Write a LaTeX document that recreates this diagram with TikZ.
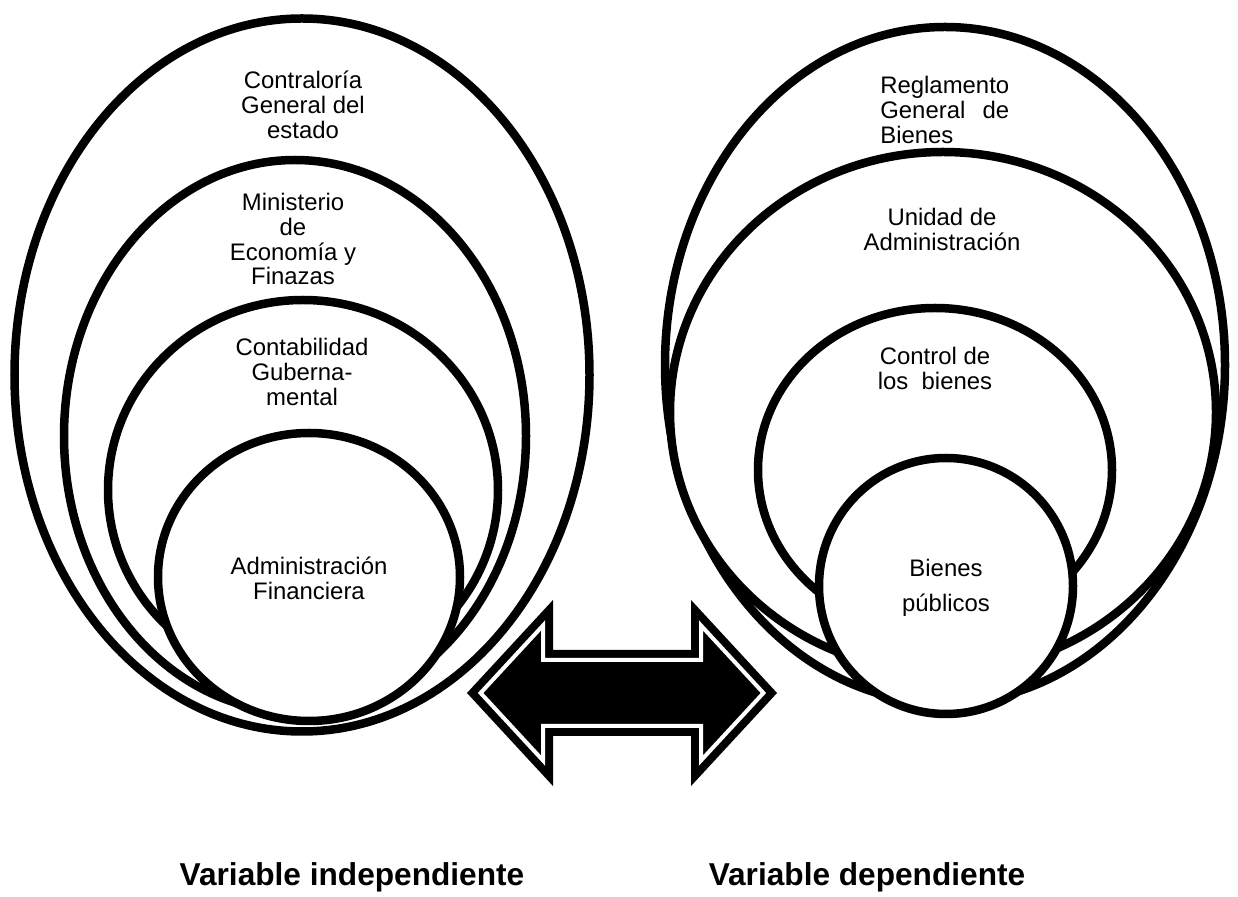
\documentclass[tikz,border=0pt]{standalone}
\usepackage{fontspec}
\setmainfont{Liberation Sans}
\usetikzlibrary{shapes.geometric}

\newlength{\anchoreg}

\tikzset{
    anillo/.style={ellipse, draw, fill=white, line width=0.17cm, inner sep=0pt},
    texto/.style={align=center, inner sep=0pt, font=\fontsize{13.6}{14.2}\selectfont},
    rotulo/.style={anchor=base, inner sep=0pt, font=\fontsize{18}{20}\selectfont\bfseries}
}

\begin{document}
\settowidth{\anchoreg}{\fontsize{13.6}{14.2}\selectfont Reglamento}
\begin{tikzpicture}

    \useasboundingbox (0,0) rectangle (24.76,17.92);

    % variable independiente
    \node[anillo, minimum width=11.50cm, minimum height=14.26cm] (contraloria) at (6.04, 10.42) {};
    \node[anillo, minimum width=9.24cm, minimum height=11.04cm] (ministerio) at (5.90, 9.20) {};
    \node[anillo, minimum width=7.80cm, minimum height=7.60cm] (contabilidad) at (6.06, 8.12) {};
    \node[anillo, minimum width=6.04cm, minimum height=5.76cm] (financiera) at (6.18, 6.38) {};

    \node[texto] (contraloriatxt) at (6.06, 15.82) {Contraloría\\General del\\estado};
    \node[texto] (ministeriotxt) at (5.86, 13.14) {Ministerio\\de\\Economía y\\Finazas};
    \node[texto] (contabilidadtxt) at (6.04, 10.48) {Contabilidad\\Guberna-\\mental};
    \node[texto] (financieratxt) at (6.18, 6.35) {Administración\\Financiera};

    % variable dependiente
    \node[anillo, minimum width=11.20cm, minimum height=13.52cm] (reglamento) at (18.90, 10.62) {};
    \node[anillo, minimum width=10.92cm, minimum height=10.40cm] (unidad) at (18.86, 9.68) {};
    \node[anillo, minimum width=7.08cm, minimum height=6.48cm] (control) at (18.70, 8.52) {};
    \node[anillo, minimum width=5.08cm, minimum height=5.12cm] (bienes) at (18.92, 6.20) {};

    \node[texto, align=left, anchor=west] (reglamentotxt) at (17.60, 15.72)
        {Reglamento\\\makebox[\anchoreg][s]{General de}\\Bienes};
    \node[texto] (unidadtxt) at (18.84, 13.33) {Unidad de\\Administración};
    \node[texto] (controltxt) at (18.70, 10.55) {Control de\\los\ \ bienes};
    \node[texto, font=\fontsize{13.6}{19.8}\selectfont] (bienestxt) at (18.92, 6.17) {Bienes\\públicos};

    % flecha doble
    \draw[fill=black, line width=0.16cm, double=white, double distance=0.08cm, line join=miter]
        (9.612, 4.06) -- (10.86, 5.41) -- (10.86, 4.72) -- (14.02, 4.72) -- (14.02, 5.41)
        -- (15.268, 4.06) -- (14.02, 2.71) -- (14.02, 3.40) -- (10.86, 3.40) -- (10.86, 2.71) -- cycle;

    \node[rotulo] (independiente) at (7.04, 0.22) {Variable independiente};
    \node[rotulo] (dependiente) at (17.34, 0.22) {Variable dependiente};

\end{tikzpicture}
\end{document}
